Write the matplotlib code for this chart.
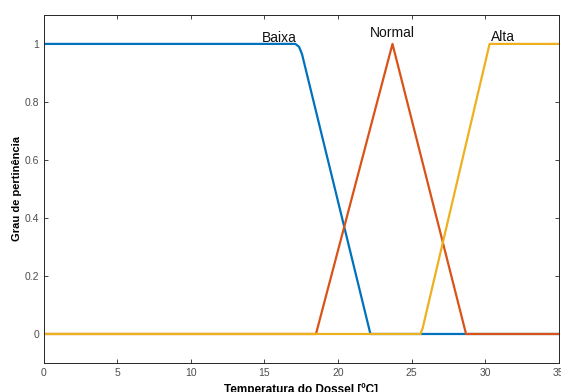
import numpy as np
import matplotlib.pyplot as plt

# membership functions
baixa_x = [0, 17.1, 17.35, 17.55, 22.2, 35]
baixa_y = [1, 1, 0.99, 0.965, 0, 0]

normal_x = [0, 18.5, 23.7, 28.7, 35]
normal_y = [0, 0, 1, 0, 0]

alta_x = [0, 25.6, 25.75, 30.3, 35]
alta_y = [0, 0, 0.02, 1, 1]

labels = ["Baixa", "Normal", "Alta"]
label_x = [16.0, 23.7, 31.2]
label_y = [0.995, 1.015, 1.0]

plt.rcParams['font.family'] = ['Liberation Sans', 'DejaVu Sans']

fig = plt.figure(figsize=(5.61, 3.92), dpi=100)
ax = fig.add_axes([0.078, 0.074, 0.918, 0.888])

ax.plot(baixa_x, baixa_y, color="#0072BD", lw=1.6)
ax.plot(normal_x, normal_y, color="#D95319", lw=1.6)
ax.plot(alta_x, alta_y, color="#EDB120", lw=1.6)

for lab, lx, ly in zip(labels, label_x, label_y):
    ax.text(lx, ly, lab, ha="center", va="bottom", fontsize=10, color="#111111")

ax.set_xlim(0, 35)
ax.set_ylim(-0.1, 1.1)
ax.set_xticks(np.arange(0, 36, 5))
ax.set_yticks([0, 0.2, 0.4, 0.6, 0.8, 1])
ax.set_yticklabels(["0", "0.2", "0.4", "0.6", "0.8", "1"])

ax.tick_params(direction="in", length=3, width=0.6, labelsize=7.5,
               labelcolor="#4d4d4d", color="#262626", top=True, right=True)
for s in ax.spines.values():
    s.set_linewidth(0.7)
    s.set_color("#262626")

ax.set_xlabel("Temperatura do Dossel [ºC]", fontsize=8.5, fontweight="bold", labelpad=4)
ax.set_ylabel("Grau de pertinência", fontsize=8, fontweight="bold", labelpad=2)

fig.savefig("out.png", dpi=100)
